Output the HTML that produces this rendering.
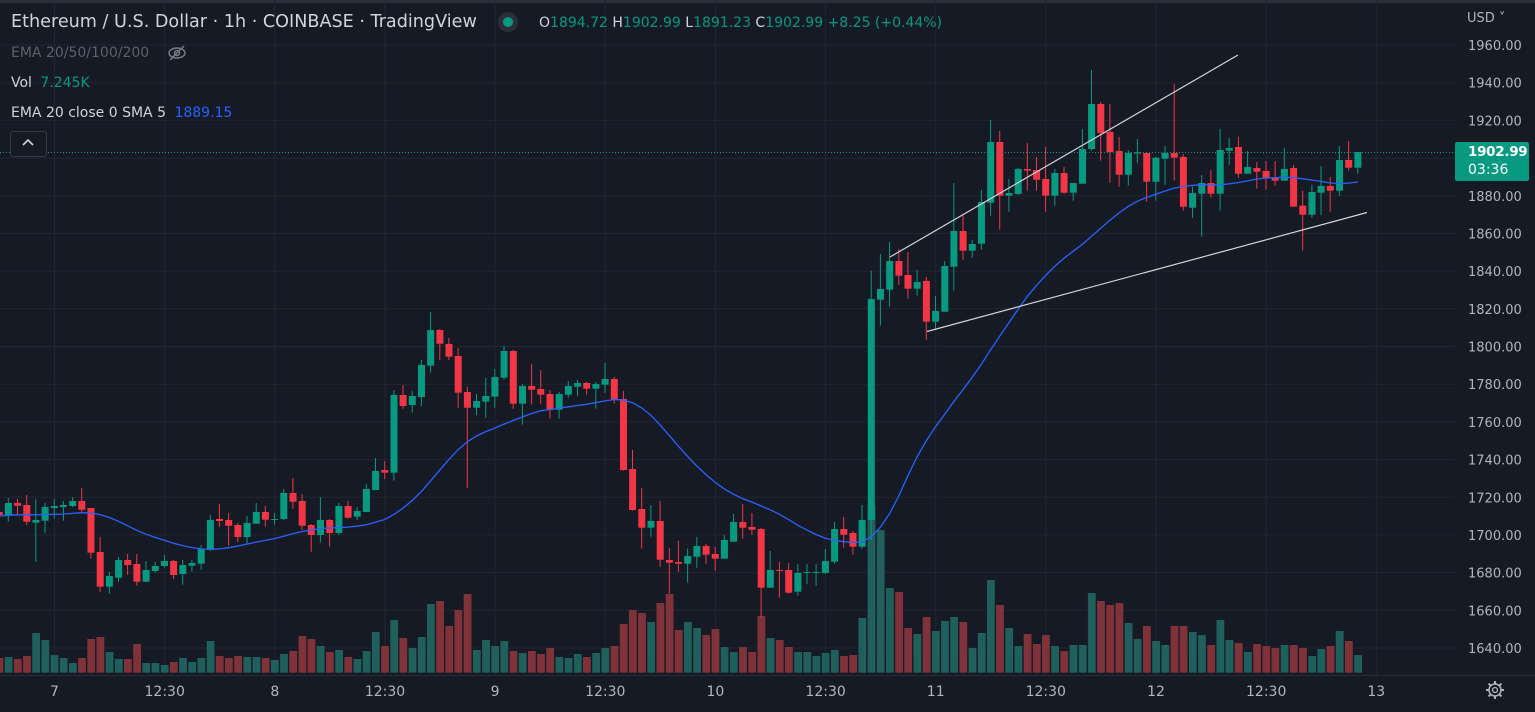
<!DOCTYPE html>
<html><head><meta charset="utf-8">
<style>
html,body{margin:0;padding:0;background:#161A25;}
body{width:1535px;height:712px;overflow:hidden;position:relative;font-family:"DejaVu Sans","Liberation Sans",sans-serif;}
svg{position:absolute;left:0;top:0;}
.t{position:absolute;white-space:nowrap;}
</style></head><body>
<svg id="s" width="1535" height="712" xmlns="http://www.w3.org/2000/svg"></svg>
<div class="t" style="left:11px;top:12px;font-size:17.6px;color:#D1D4DC;">Ethereum / U.S. Dollar · 1h · COINBASE · TradingView</div>
<div class="t" style="left:498px;top:12px;width:20px;height:20px;border-radius:10px;background:#2A2E39;"></div>
<div class="t" style="left:503px;top:17px;width:10px;height:10px;border-radius:5px;background:#089981;"></div>
<div class="t" style="left:539px;top:15px;font-size:14px;color:#D1D4DC;">O<span style="color:#089981">1894.72</span> H<span style="color:#089981">1902.99</span> L<span style="color:#089981">1891.23</span> C<span style="color:#089981">1902.99</span> <span style="color:#089981">+8.25 (+0.44%)</span></div>
<div class="t" style="left:11px;top:45px;font-size:14px;color:#5D606B;">EMA 20/50/100/200</div>
<svg style="left:166px;top:43px" width="22" height="20"><ellipse cx="11" cy="10" rx="8" ry="5" fill="none" stroke="#787B86" stroke-width="1.5"/><circle cx="11" cy="10" r="2.5" fill="none" stroke="#787B86" stroke-width="1.5"/><line x1="4" y1="17" x2="18" y2="3" stroke="#787B86" stroke-width="1.5"/></svg>
<div class="t" style="left:11px;top:75px;font-size:14px;color:#D1D4DC;">Vol <span style="color:#089981;margin-left:4px">7.245K</span></div>
<div class="t" style="left:11px;top:105px;font-size:14px;color:#D1D4DC;">EMA 20 close 0 SMA 5 <span style="color:#2962FF;margin-left:4px">1889.15</span></div>
<div class="t" style="left:10px;top:131px;width:35px;height:24px;border:1px solid #363A45;border-radius:3px;background:#161A25;"></div>
<svg style="left:22px;top:138px" width="12" height="10"><polyline points="1,7 6,2 11,7" fill="none" stroke="#D1D4DC" stroke-width="1.6"/></svg>
<div class="t" style="left:1467px;top:11px;font-size:13px;color:#B2B5BE;">USD ˅</div>
<div class="t" style="left:1455px;top:142px;width:74px;height:39px;background:#089981;border-radius:2px;"></div>
<div class="t" style="left:1468px;top:144px;font-size:13.5px;color:#fff;font-weight:bold;letter-spacing:-0.3px;">1902.99</div>
<div class="t" style="left:1468px;top:162px;font-size:14px;color:#fff;">03:36</div>
<svg style="left:1485px;top:680px" width="20" height="20"><circle cx="10" cy="10" r="6" fill="none" stroke="#B2B5BE" stroke-width="1.5"/><circle cx="10" cy="10" r="2.5" fill="none" stroke="#B2B5BE" stroke-width="1.3"/><g stroke="#B2B5BE" stroke-width="2"><line x1="10" y1="1" x2="10" y2="4"/><line x1="10" y1="16" x2="10" y2="19"/><line x1="1" y1="10" x2="4" y2="10"/><line x1="16" y1="10" x2="19" y2="10"/><line x1="3.6" y1="3.6" x2="5.8" y2="5.8"/><line x1="14.2" y1="14.2" x2="16.4" y2="16.4"/><line x1="3.6" y1="16.4" x2="5.8" y2="14.2"/><line x1="14.2" y1="5.8" x2="16.4" y2="3.6"/></g></svg>
<script>
var S=document.getElementById('s'),out='';
var FF='DejaVu Sans,Liberation Sans,sans-serif';
out+='<rect x="0" y="0" width="1535" height="3" fill="#2A2E39"/>';
for(var p=1960;p>=1640;p-=20){var y=45+(1960-p)*1.8844;out+='<line x1="0" x2="1455" y1="'+y.toFixed(1)+'" y2="'+y.toFixed(1)+'" stroke="#232632" stroke-width="1"/>';
 out+='<text x="1468" y="'+(y+5).toFixed(1)+'" fill="#B2B5BE" font-size="13" font-family="'+FF+'">'+p+'.00</text>';}
var tl=['7','12:30','8','12:30','9','12:30','10','12:30','11','12:30','12','12:30','13'];
for(var k=0;k<13;k++){var x=54.5+110.15*k;if(x<1455)out+='<line y1="0" y2="675" x1="'+x.toFixed(1)+'" x2="'+x.toFixed(1)+'" stroke="#232632" stroke-width="1"/>';
 out+='<text x="'+x.toFixed(1)+'" y="696" text-anchor="middle" fill="#B2B5BE" font-size="14" font-family="'+FF+'">'+tl[k]+'</text>';}
out+='<line x1="0" x2="1535" y1="675.5" y2="675.5" stroke="#2A2E39"/>';
var A=[
['r',636,645,630,650],
['g',609,645,594,665],['r',609,617,597,647],['r',615,665,585,675],['g',660,668,597,785],['g',621,662,609,698],['g',618,624,597,656],['g',615,621,603,662],['g',603,618,591,621],['r',603,629,564,641],['r',624,758,624,776],
['r',756,860,711,876],['g',828,860,816,881],['g',780,833,771,845],['r',780,795,762,824],['r',792,845,762,857],['g',810,845,783,845],['g',798,813,786,818],['g',783,798,765,803],['r',783,825,780,837],['g',795,822,780,854],
['g',789,797,780,815],['g',747,791,735,809],['g',660,750,645,753],['r',657,663,612,680],['r',660,677,639,737],['r',675,711,669,726],['g',669,711,648,731],['g',636,671,609,671],['r',636,659,618,680],['g',657,659,639,674],
['g',579,657,567,660],['r',579,605,534,626],['r',603,677,582,689],['r',675,705,672,755],['g',660,705,591,728],['r',660,699,657,740],['g',618,699,609,704],['r',618,653,603,656],['g',633,650,621,660],['g',567,636,552,636],
['g',513,570,474,570],['r',510,518,483,537],['g',285,518,270,542],['r',285,318,255,326],['g',288,315,273,338],['g',195,291,180,318],['g',90,197,36,218],['r',90,131,87,180],['r',132,170,114,180],
['r',168,278,144,323],['r',276,323,261,563],['g',303,323,282,345],['g',288,305,234,353],['g',231,290,207,323],['g',153,233,138,239],['r',153,311,150,326],['g',258,311,252,374],['r',258,269,192,314],['r',267,284,210,311],
['r',282,329,270,356],['g',282,329,276,356],['g',258,284,243,293],['g',249,260,240,287],['r',249,266,246,284],['g',252,266,246,326],['g',237,254,189,278],['r',237,299,231,311],['r',297,510,273,512],['r',507,630,450,632],
['r',627,683,564,746],['g',663,683,615,710],['r',663,779,603,800],['r',780,788,743,881],['r',786,791,722,815],['g',768,791,746,848],['g',738,770,711,803],['r',738,764,731,791],['r',762,776,741,812],['g',720,776,705,776],
['g',666,725,642,725],['r',666,683,612,716],['r',681,689,639,704],['r',687,863,684,953],['g',810,863,753,863],['r',810,812,785,893],['r',810,878,789,881],['g',819,875,792,887],['g',816,818,792,851],['g',816,818,792,857],
['g',783,819,747,821],['g',687,785,666,791],['r',687,704,651,743],['r',699,740,693,764],['g',660,740,615,746]];
var B=[
['g',717,1380,632,1440],['g',687,719,582,797],['g',603,689,546,740],['r',603,647,567,674],['r',645,686,576,716],['g',666,686,630,707],['r',663,785,651,839],['g',753,785,708,806],['g',618,755,603,755],['g',513,620,369,692],
['r',513,572,461,599],['g',552,572,540,593],['g',426,551,390,569],['g',246,428,180,467],['r',246,407,213,509],['g',399,407,357,455],['g',327,402,324,404],['r',327,332,249,392],['r',330,359,291,392],['r',357,407,261,455],
['g',339,407,327,437],['r',339,398,321,401],['g',369,398,369,422],['g',267,371,207,371],['g',132,267,30,272],['r',132,219,126,302],['r',216,276,132,368],['r',273,344,231,380],['g',279,344,270,377],['g',277,281,237,308],
['r',279,365,279,425],['g',293,365,291,422],['g',279,296,258,374],['r',279,293,72,362],['r',291,440,282,452],['g',399,443,380,473],['g',369,401,345,530],['r',369,401,330,413],['g',270,401,207,452],['g',264,272,234,314],
['r',261,341,231,353],['g',321,341,273,341],['r',324,335,306,386],['r',333,353,303,389],['r',351,362,303,377],['g',327,362,264,362],['r',324,440,315,440],['r',437,464,392,572],['g',396,464,374,473],['g',378,398,318,464],
['r',378,392,351,455],['g',300,392,258,407],['r',300,323,243,332],['g',276,323,276,341]];
var C=[];
A.forEach(function(a){C.push([a[0],300+a[1]/3,300+a[2]/3,300+a[3]/3,300+a[4]/3]);});
B.forEach(function(a){C.push([a[0],60+a[1]/3,60+a[2]/3,60+a[3]/3,60+a[4]/3]);});
var V1=[1074,1071,1077,1068,999,1020,1065,1074,1089,1074,1017,1011,1056,1077,1077,1032,1089,1089,1095,1086,1074,1086,1074,1023,1068,1074,1068,1071,1071,1074,1080,1062,1053,1008,1017,1038,1056,1050,1071,1077,1053,996,1038,960,1014,1044,1011,912,903,978,
930,882,1050,1020,1038,1023,1053,1059,1053,1062,1044,1071,1074,1062,1071,1059,1044,1038,972,930,939,966,909,882,990,966,984,1005,987,1041,1056,1041,1056,948,1014,1020,1041,1056,1056,1068,1059,1050,1068,1065,954,618,690,864];
var V=V1.map(function(z){return 300+z/3;});
var V2=[96,204,222,171,213,183,171,186,264,219,60,135,204,258,222,252,225,258,273,255,255,99,123,135,129,189,237,198,243,255,198,198,216,225,255,180,240,249,276,252,258,264,255,255,264,288,267,258,213,243,285];
V2.forEach(function(z){V.push(560+z/3);});
var vol='',can='';
for(var i=0;i<C.length;i++){
 var c=C[i],x=8.3+9.18*(i-1),g=c[0]=='g';
 var col=g?'#089981':'#F23645',vcol=g?'#1F5F5C':'#7F323A';
 if(V[i]!==undefined) vol+='<rect x="'+(x-3.6).toFixed(1)+'" y="'+V[i].toFixed(1)+'" width="7.8" height="'+(672.7-V[i]).toFixed(1)+'" fill="'+vcol+'"/>';
 can+='<line x1="'+x.toFixed(1)+'" x2="'+x.toFixed(1)+'" y1="'+c[3].toFixed(1)+'" y2="'+c[4].toFixed(1)+'" stroke="'+col+'" stroke-width="1"/>';
 can+='<rect x="'+(x-3.4).toFixed(1)+'" y="'+c[1].toFixed(1)+'" width="7" height="'+Math.max(1,c[2]-c[1]).toFixed(1)+'" fill="'+col+'"/>';
}
var e=516,ems=[],pts=[];
for(var i=0;i<C.length;i++){var c=C[i],cl=c[0]=='g'?c[1]:c[2];e=e+(cl-e)*2/21;ems.push(e);
 var n=Math.min(5,ems.length),s=0;for(var j=0;j<n;j++)s+=ems[ems.length-1-j];pts.push((8.3+9.18*(i-1)).toFixed(1)+','+(s/n).toFixed(1));}
out+=vol+can;
out+='<polyline points="'+pts.join(' ')+'" fill="none" stroke="#2962FF" stroke-width="1.3"/>';
out+='<line x1="890" y1="257" x2="1238" y2="55" stroke="#D1D4DC" stroke-width="1.2"/>';
out+='<line x1="927" y1="331.5" x2="1367" y2="212.5" stroke="#D1D4DC" stroke-width="1.2"/>';
out+='<line x1="0" x2="1455" y1="152.5" y2="152.5" stroke="#089981" stroke-width="1" stroke-dasharray="1,2"/>';
S.innerHTML=out;
</script>
</body></html>
